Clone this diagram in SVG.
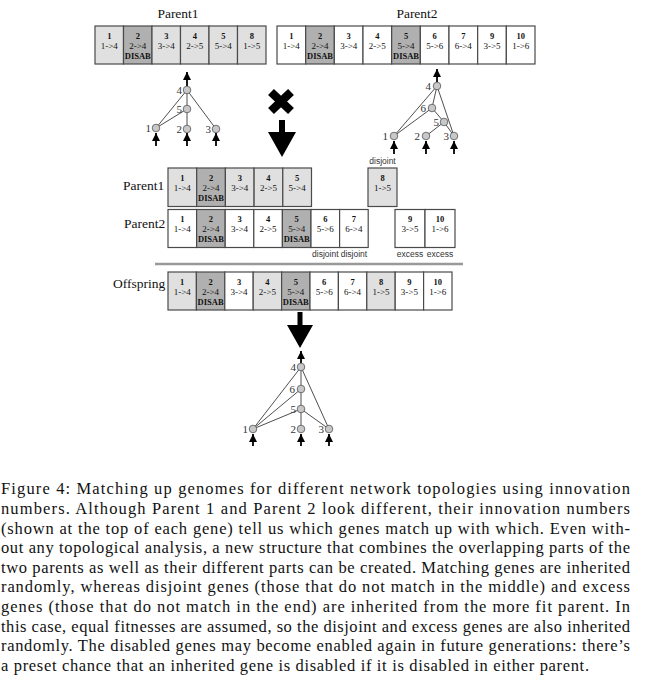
<svg xmlns="http://www.w3.org/2000/svg" width="649" height="694" viewBox="0 0 649 694">
<style>
.box{stroke:#4a4a4a;stroke-width:1.2}
.lt{fill:#e0e0e0}.dk{fill:#b0b0b0}.wh{fill:#fff}
.num{font-family:"Liberation Serif",serif;font-weight:bold;font-size:8.5px;text-anchor:middle;fill:#111}
.map{font-family:"Liberation Serif",serif;font-size:9px;text-anchor:middle;fill:#111}
.dis{font-family:"Liberation Serif",serif;font-weight:bold;font-size:8.5px;text-anchor:middle;fill:#111}
.lbl{font-family:"Liberation Serif",serif;font-size:13.5px;fill:#111}
.tag{font-family:"Liberation Sans",sans-serif;font-size:8.5px;text-anchor:middle;fill:#333}
.neu{fill:#c8c8c8;stroke:#555;stroke-width:0.8}
.nl{font-family:"Liberation Serif",serif;font-size:11px;fill:#333;text-anchor:end}
.edge{stroke:#222;stroke-width:0.8;fill:none}
.io{stroke:#000;stroke-width:1.8;marker-end:url(#ah)}
.big{fill:#000}
.cap{font-family:"Liberation Serif",serif;font-size:16.5px;fill:#111}
</style>
<defs>
<marker id="ah" markerUnits="userSpaceOnUse" markerWidth="8" markerHeight="8" viewBox="0 0 8 8" refX="8" refY="4" orient="auto">
<path d="M0,0 L8,4 L0,8 z" fill="#000"/>
</marker>
</defs>
<rect width="649" height="694" fill="#fff"/>

<!-- Top Parent1 genome -->
<text class="lbl" x="178" y="18" text-anchor="middle">Parent1</text>
<g id="p1-g1"><rect class="box lt" x="95" y="26" width="28.5" height="38"/><text class="num" x="109.25" y="38.5">1</text><text class="map" x="109.25" y="48.5">1-&gt;4</text></g>
<g id="p1-g2"><rect class="box dk" x="123.5" y="26" width="28.5" height="38"/><text class="num" x="137.75" y="38.5">2</text><text class="map" x="137.75" y="48.5">2-&gt;4</text><text class="dis" x="137.75" y="58.5">DISAB</text></g>
<g id="p1-g3"><rect class="box lt" x="152" y="26" width="28.5" height="38"/><text class="num" x="166.25" y="38.5">3</text><text class="map" x="166.25" y="48.5">3-&gt;4</text></g>
<g id="p1-g4"><rect class="box lt" x="180.5" y="26" width="28.5" height="38"/><text class="num" x="194.75" y="38.5">4</text><text class="map" x="194.75" y="48.5">2-&gt;5</text></g>
<g id="p1-g5"><rect class="box lt" x="209" y="26" width="28.5" height="38"/><text class="num" x="223.25" y="38.5">5</text><text class="map" x="223.25" y="48.5">5-&gt;4</text></g>
<g id="p1-g8"><rect class="box lt" x="237.5" y="26" width="28.5" height="38"/><text class="num" x="251.75" y="38.5">8</text><text class="map" x="251.75" y="48.5">1-&gt;5</text></g>

<!-- Top Parent2 genome -->
<text class="lbl" x="417" y="18" text-anchor="middle">Parent2</text>
<g id="p2-g1"><rect class="box wh" x="277" y="26" width="28.67" height="38"/><text class="num" x="291.3" y="38.5">1</text><text class="map" x="291.3" y="48.5">1-&gt;4</text></g>
<g id="p2-g2"><rect class="box dk" x="305.67" y="26" width="28.67" height="38"/><text class="num" x="320" y="38.5">2</text><text class="map" x="320" y="48.5">2-&gt;4</text><text class="dis" x="320" y="58.5">DISAB</text></g>
<g id="p2-g3"><rect class="box wh" x="334.33" y="26" width="28.67" height="38"/><text class="num" x="348.7" y="38.5">3</text><text class="map" x="348.7" y="48.5">3-&gt;4</text></g>
<g id="p2-g4"><rect class="box wh" x="363" y="26" width="28.67" height="38"/><text class="num" x="377.3" y="38.5">4</text><text class="map" x="377.3" y="48.5">2-&gt;5</text></g>
<g id="p2-g5"><rect class="box dk" x="391.67" y="26" width="28.67" height="38"/><text class="num" x="406" y="38.5">5</text><text class="map" x="406" y="48.5">5-&gt;4</text><text class="dis" x="406" y="58.5">DISAB</text></g>
<g id="p2-g6"><rect class="box wh" x="420.33" y="26" width="28.67" height="38"/><text class="num" x="434.7" y="38.5">6</text><text class="map" x="434.7" y="48.5">5-&gt;6</text></g>
<g id="p2-g7"><rect class="box wh" x="449" y="26" width="28.67" height="38"/><text class="num" x="463.3" y="38.5">7</text><text class="map" x="463.3" y="48.5">6-&gt;4</text></g>
<g id="p2-g9"><rect class="box wh" x="477.67" y="26" width="28.67" height="38"/><text class="num" x="492" y="38.5">9</text><text class="map" x="492" y="48.5">3-&gt;5</text></g>
<g id="p2-g10"><rect class="box wh" x="506.33" y="26" width="28.67" height="38"/><text class="num" x="520.7" y="38.5">10</text><text class="map" x="520.7" y="48.5">1-&gt;6</text></g>

<!-- Connectors: network edges and arrows -->
<g id="connectors">
  <!-- Parent1 network -->
  <line class="edge" x1="156" y1="128" x2="187" y2="90"/>
  <line class="edge" x1="156" y1="128" x2="187" y2="109"/>
  <line class="edge" x1="187" y1="109" x2="187" y2="90"/>
  <line class="edge" x1="187" y1="129" x2="187" y2="109"/>
  <line class="edge" x1="216" y1="129" x2="187" y2="90"/>
  <line class="io" x1="187" y1="86" x2="187" y2="72"/>
  <line class="io" x1="156" y1="146" x2="156" y2="133"/>
  <line class="io" x1="187" y1="146" x2="187" y2="133"/>
  <line class="io" x1="216" y1="146" x2="216" y2="133"/>
  <!-- Parent2 network -->
  <line class="edge" x1="394" y1="136" x2="437" y2="86"/>
  <line class="edge" x1="394" y1="136" x2="432" y2="108"/>
  <line class="edge" x1="432" y1="108" x2="437" y2="86"/>
  <line class="edge" x1="444" y1="122" x2="432" y2="108"/>
  <line class="edge" x1="426" y1="136" x2="444" y2="122"/>
  <line class="edge" x1="454" y1="136" x2="444" y2="122"/>
  <line class="edge" x1="454" y1="136" x2="437" y2="86"/>
  <line class="io" x1="437" y1="82" x2="437" y2="69"/>
  <line class="io" x1="394" y1="154" x2="394" y2="141"/>
  <line class="io" x1="426" y1="154" x2="426" y2="141"/>
  <line class="io" x1="454" y1="154" x2="454" y2="141"/>
  <!-- Offspring network -->
  <line class="edge" x1="253" y1="429" x2="301" y2="367"/>
  <line class="edge" x1="253" y1="429" x2="301" y2="389"/>
  <line class="edge" x1="253" y1="429" x2="301" y2="409"/>
  <line class="edge" x1="301" y1="389" x2="301" y2="367"/>
  <line class="edge" x1="301" y1="409" x2="301" y2="389"/>
  <line class="edge" x1="301" y1="429" x2="301" y2="409"/>
  <line class="edge" x1="329" y1="429" x2="301" y2="409"/>
  <line class="edge" x1="329" y1="429" x2="301" y2="367"/>
  <line class="io" x1="301" y1="363" x2="301" y2="351"/>
  <line class="io" x1="253" y1="446" x2="253" y2="434"/>
  <line class="io" x1="301" y1="446" x2="301" y2="434"/>
  <line class="io" x1="329" y1="446" x2="329" y2="434"/>
  <!-- big arrows and cross -->
  <path d="M271,92 L291,111 M291,92 L271,111" stroke="#000" stroke-width="8.5" fill="none"/>
  <polygon class="big" points="279,120 285,120 285,132 296,132 282,157 268,132 279,132"/>
  <polygon class="big" points="297.5,312 302.5,312 302.5,325 313,325 300,348 287,325 297.5,325"/>
</g>

<!-- Parent1 network neurons -->
<g id="p1-n4"><circle class="neu" cx="187" cy="90" r="3.8"/><text class="nl" x="182" y="93.5">4</text></g>
<g id="p1-n5"><circle class="neu" cx="187" cy="109" r="3.8"/><text class="nl" x="182" y="112.5">5</text></g>
<g id="p1-n1"><circle class="neu" cx="156" cy="128" r="3.8"/><text class="nl" x="151" y="131.5">1</text></g>
<g id="p1-n2"><circle class="neu" cx="187" cy="129" r="3.8"/><text class="nl" x="182" y="132.5">2</text></g>
<g id="p1-n3"><circle class="neu" cx="216" cy="129" r="3.8"/><text class="nl" x="211" y="132.5">3</text></g>

<!-- Parent2 network neurons -->
<g id="p2-n4"><circle class="neu" cx="437" cy="86" r="3.8"/><text class="nl" x="431" y="89.5">4</text></g>
<g id="p2-n6"><circle class="neu" cx="432" cy="108" r="3.8"/><text class="nl" x="426" y="111.5">6</text></g>
<g id="p2-n5"><circle class="neu" cx="444" cy="122" r="3.8"/><text class="nl" x="439" y="125.5">5</text></g>
<g id="p2-n1"><circle class="neu" cx="394" cy="136" r="3.8"/><text class="nl" x="388" y="139.5">1</text></g>
<g id="p2-n2"><circle class="neu" cx="426" cy="136" r="3.8"/><text class="nl" x="420" y="139.5">2</text></g>
<g id="p2-n3"><circle class="neu" cx="454" cy="136" r="3.8"/><text class="nl" x="449" y="139.5">3</text></g>

<!-- Alignment: Parent1 -->
<text class="lbl" x="123" y="190">Parent1</text>
<g id="a1-g1"><rect class="box lt" x="168" y="168" width="28.7" height="38.5"/><text class="num" x="182.35" y="180.5">1</text><text class="map" x="182.35" y="190.5">1-&gt;4</text></g>
<g id="a1-g2"><rect class="box dk" x="196.7" y="168" width="28.7" height="38.5"/><text class="num" x="211.05" y="180.5">2</text><text class="map" x="211.05" y="190.5">2-&gt;4</text><text class="dis" x="211.05" y="200.5">DISAB</text></g>
<g id="a1-g3"><rect class="box lt" x="225.4" y="168" width="28.7" height="38.5"/><text class="num" x="239.75" y="180.5">3</text><text class="map" x="239.75" y="190.5">3-&gt;4</text></g>
<g id="a1-g4"><rect class="box lt" x="254.1" y="168" width="28.7" height="38.5"/><text class="num" x="268.45" y="180.5">4</text><text class="map" x="268.45" y="190.5">2-&gt;5</text></g>
<g id="a1-g5"><rect class="box lt" x="282.8" y="168" width="28.7" height="38.5"/><text class="num" x="297.15" y="180.5">5</text><text class="map" x="297.15" y="190.5">5-&gt;4</text></g>
<text class="tag" x="382.5" y="164">disjoint</text>
<g id="a1-g8"><rect class="box lt" x="368" y="168" width="29" height="38.5"/><text class="num" x="382.5" y="180.5">8</text><text class="map" x="382.5" y="190.5">1-&gt;5</text></g>

<!-- Alignment: Parent2 -->
<text class="lbl" x="124" y="228">Parent2</text>
<g id="a2-g1"><rect class="box wh" x="168" y="209.5" width="28.6" height="38"/><text class="num" x="182.3" y="222">1</text><text class="map" x="182.3" y="232">1-&gt;4</text></g>
<g id="a2-g2"><rect class="box dk" x="196.6" y="209.5" width="28.6" height="38"/><text class="num" x="210.9" y="222">2</text><text class="map" x="210.9" y="232">2-&gt;4</text><text class="dis" x="210.9" y="242">DISAB</text></g>
<g id="a2-g3"><rect class="box wh" x="225.2" y="209.5" width="28.6" height="38"/><text class="num" x="239.5" y="222">3</text><text class="map" x="239.5" y="232">3-&gt;4</text></g>
<g id="a2-g4"><rect class="box wh" x="253.8" y="209.5" width="28.6" height="38"/><text class="num" x="268.1" y="222">4</text><text class="map" x="268.1" y="232">2-&gt;5</text></g>
<g id="a2-g5"><rect class="box dk" x="282.4" y="209.5" width="28.6" height="38"/><text class="num" x="296.7" y="222">5</text><text class="map" x="296.7" y="232">5-&gt;4</text><text class="dis" x="296.7" y="242">DISAB</text></g>
<g id="a2-g6"><rect class="box wh" x="311" y="209.5" width="28.6" height="38"/><text class="num" x="325.3" y="222">6</text><text class="map" x="325.3" y="232">5-&gt;6</text></g>
<g id="a2-g7"><rect class="box wh" x="339.6" y="209.5" width="28.6" height="38"/><text class="num" x="353.9" y="222">7</text><text class="map" x="353.9" y="232">6-&gt;4</text></g>
<g id="a2-g9"><rect class="box wh" x="395" y="209.5" width="30" height="38"/><text class="num" x="410" y="222">9</text><text class="map" x="410" y="232">3-&gt;5</text></g>
<g id="a2-g10"><rect class="box wh" x="425" y="209.5" width="30" height="38"/><text class="num" x="440" y="222">10</text><text class="map" x="440" y="232">1-&gt;6</text></g>
<text class="tag" x="325.3" y="256.5">disjoint</text>
<text class="tag" x="353.9" y="256.5">disjoint</text>
<text class="tag" x="410" y="256.5">excess</text>
<text class="tag" x="440" y="256.5">excess</text>

<line x1="155" y1="264" x2="463" y2="264" stroke="#999" stroke-width="2.5"/>

<!-- Offspring -->
<text class="lbl" x="113" y="288">Offspring</text>
<g id="o-g1"><rect class="box lt" x="168" y="272" width="28.4" height="38"/><text class="num" x="182.2" y="284.5">1</text><text class="map" x="182.2" y="294.5">1-&gt;4</text></g>
<g id="o-g2"><rect class="box dk" x="196.4" y="272" width="28.4" height="38"/><text class="num" x="210.6" y="284.5">2</text><text class="map" x="210.6" y="294.5">2-&gt;4</text><text class="dis" x="210.6" y="304.5">DISAB</text></g>
<g id="o-g3"><rect class="box wh" x="224.8" y="272" width="28.4" height="38"/><text class="num" x="239" y="284.5">3</text><text class="map" x="239" y="294.5">3-&gt;4</text></g>
<g id="o-g4"><rect class="box lt" x="253.2" y="272" width="28.4" height="38"/><text class="num" x="267.4" y="284.5">4</text><text class="map" x="267.4" y="294.5">2-&gt;5</text></g>
<g id="o-g5"><rect class="box dk" x="281.6" y="272" width="28.4" height="38"/><text class="num" x="295.8" y="284.5">5</text><text class="map" x="295.8" y="294.5">5-&gt;4</text><text class="dis" x="295.8" y="304.5">DISAB</text></g>
<g id="o-g6"><rect class="box wh" x="310" y="272" width="28.4" height="38"/><text class="num" x="324.2" y="284.5">6</text><text class="map" x="324.2" y="294.5">5-&gt;6</text></g>
<g id="o-g7"><rect class="box wh" x="338.4" y="272" width="28.4" height="38"/><text class="num" x="352.6" y="284.5">7</text><text class="map" x="352.6" y="294.5">6-&gt;4</text></g>
<g id="o-g8"><rect class="box lt" x="366.8" y="272" width="28.4" height="38"/><text class="num" x="381" y="284.5">8</text><text class="map" x="381" y="294.5">1-&gt;5</text></g>
<g id="o-g9"><rect class="box wh" x="395.2" y="272" width="28.4" height="38"/><text class="num" x="409.4" y="284.5">9</text><text class="map" x="409.4" y="294.5">3-&gt;5</text></g>
<g id="o-g10"><rect class="box wh" x="423.6" y="272" width="28.4" height="38"/><text class="num" x="437.8" y="284.5">10</text><text class="map" x="437.8" y="294.5">1-&gt;6</text></g>

<!-- Offspring network neurons -->
<g id="o-n4"><circle class="neu" cx="301" cy="367" r="3.8"/><text class="nl" x="296" y="370.5">4</text></g>
<g id="o-n6"><circle class="neu" cx="301" cy="389" r="3.8"/><text class="nl" x="295" y="392.5">6</text></g>
<g id="o-n5"><circle class="neu" cx="301" cy="409" r="3.8"/><text class="nl" x="296" y="412.5">5</text></g>
<g id="o-n1"><circle class="neu" cx="253" cy="429" r="3.8"/><text class="nl" x="248" y="432.5">1</text></g>
<g id="o-n2"><circle class="neu" cx="301" cy="429" r="3.8"/><text class="nl" x="296" y="432.5">2</text></g>
<g id="o-n3"><circle class="neu" cx="329" cy="429" r="3.8"/><text class="nl" x="324" y="432.5">3</text></g>

<!-- Caption -->
<g id="caption">
<text class="cap" x="1" y="494" textLength="629" lengthAdjust="spacing">Figure 4:  Matching up genomes for different network topologies using innovation</text>
<text class="cap" x="1" y="514" textLength="629" lengthAdjust="spacing">numbers.  Although Parent 1 and Parent 2 look different, their innovation numbers</text>
<text class="cap" x="1" y="533.5" textLength="629" lengthAdjust="spacing">(shown at the top of each gene) tell us which genes match up with which.  Even with-</text>
<text class="cap" x="1" y="553" textLength="629" lengthAdjust="spacing">out any topological analysis, a new structure that combines the overlapping parts of the</text>
<text class="cap" x="1" y="572.5" textLength="629" lengthAdjust="spacing">two parents as well as their different parts can be created. Matching genes are inherited</text>
<text class="cap" x="1" y="592" textLength="629" lengthAdjust="spacing">randomly, whereas disjoint genes (those that do not match in the middle) and excess</text>
<text class="cap" x="1" y="612" textLength="629" lengthAdjust="spacing">genes (those that do not match in the end) are inherited from the more fit parent.  In</text>
<text class="cap" x="1" y="631.5" textLength="629" lengthAdjust="spacing">this case, equal fitnesses are assumed, so the disjoint and excess genes are also inherited</text>
<text class="cap" x="1" y="651" textLength="629" lengthAdjust="spacing">randomly. The disabled genes may become enabled again in future generations: there’s</text>
<text class="cap" x="1" y="670.5" textLength="588" lengthAdjust="spacing">a preset chance that an inherited gene is disabled if it is disabled in either parent.</text>
</g>
</svg>
